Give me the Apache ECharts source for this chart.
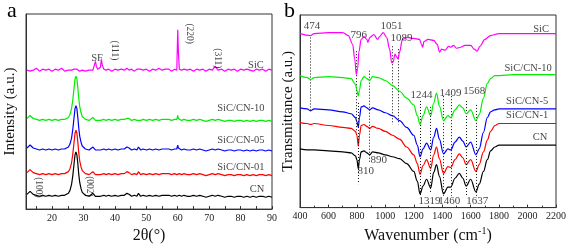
<!DOCTYPE html>
<html><head><meta charset="utf-8">
<script src="https://cdn.jsdelivr.net/npm/echarts@6/dist/echarts.min.js"></script>
<style>html,body{margin:0;padding:0;background:#fff}#c{width:569px;height:249px}</style>
</head><body><div id="c"></div>
<script>
// ---------- Panel a: XRD ----------
const xrdX = [12,12.5,13,13.5,14,15,16,17,18,19,
  20,21,22,23,24,24.6,25.2,25.7,26.2,26.6,
  27.0,27.3,27.6,27.9,28.2,28.5,28.8,29.2,29.6,30.1,
  30.6,31.2,31.8,32.4,33.0,33.5,33.8,34.1,34.5,35.0,
  35.4,35.7,36.0,36.5,37.2,38,39,40,41,42,
  43,43.8,44.5,45.3,46.2,47.0,47.5,48.2,49,50,
  51,52,53,54,55,56,56.5,57.2,58,59,
  59.7,60.0,60.2,60.5,61.2,62,63,64,65,66,
  67,68,69,70,71,71.9,72.8,74,75,76,
  77,78,79,80,81,82,83,84,85,86,87,88,89,90];
const xrdCN = [15,17,18,17,15,14,13,14,13,14,
  13,14,13,14,14,15,16,19,25,34,
  46,55,58,55,46,35,27,21,17,15,
  14,14,13,14,16,14,13,14,13,14,
  13,14,13,14,13,14,13,14,13,14,
  14,16,15,13,14,13,16,13,14,13,
  14,13,14,13,14,14,16,14,13,14,
  13,14,13,14,13,14,13,13,14,13,
  14,13,12,13,14,13,14,13,12,13,
  13,12,13,13,12,13,12,13,12,13,13,12,13,12];
const xrdCN01 = [37,39,40,39,37,36,35,36,35,36,
  35,36,35,36,36,37,38,41,47,56,
  68,77,80,77,68,57,49,43,39,37,
  36,36,35,36,38,36,35,36,35,36,
  35,36,35,36,35,36,35,36,35,36,
  36,38,37,35,36,35,38,35,36,35,
  36,35,36,35,36,36,38,36,35,36,
  35,36,35,36,35,36,35,35,36,35,
  36,35,34,35,36,35,36,35,34,35,
  35,34,35,35,34,35,34,35,34,35,35,34,35,34];
const xrdCN05 = [62,64,65,64,62,61,60,61,60,61,
  60,61,60,61,61,62,63,66,72,81,
  93,102,105,102,93,82,74,68,64,62,
  61,61,60,61,63,61,60,61,60,61,
  60,61,60,61,60,61,60,61,60,61,
  61,63,62,60,61,60,63,60,61,60,
  61,60,61,60,61,61,63,61,60,61,
  61,65,62,61,60,61,60,60,61,60,
  61,60,59,60,61,60,61,60,59,60,
  60,59,60,60,59,60,59,60,59,60,60,59,60,59];
const xrdCN10 = [92,94,95,94,92,91,90,91,90,91,
  90,91,90,91,91,92,93,96,102,111,
  123,132,135,132,123,112,104,98,94,92,
  91,91,90,91,93,91,90,91,90,91,
  90,91,90,91,90,91,90,91,90,91,
  91,92,92,90,91,90,92,90,91,90,
  91,90,91,90,91,91,93,91,90,91,
  91,95,92,91,90,91,90,90,91,90,
  91,90,89,90,91,90,91,90,89,90,
  90,89,90,90,89,90,89,90,89,90,90,89,90,89];
const xrdSiC = [141,143,140,142,141,143,140,142,141,142,
  140,142,141,143,140,142,141,139,141,140,
  142,141,140,142,141,143,140,142,141,142,
  140,142,141,142,141,143,150,145,142,141,
  144,152,146,142,141,142,140,142,141,142,
  141,143,141,142,140,142,141,142,141,142,
  140,142,141,143,141,142,141,142,140,142,
  141,182,160,142,141,142,141,142,140,142,
  141,142,140,142,141,145,141,142,140,142,
  141,142,140,142,141,142,141,140,142,141,142,140,142,141];
const xrdNames = ['CN','SiC/CN-01','SiC/CN-05','SiC/CN-10','SiC'];
const xrdLabelPos = [[85.2,20],[80.1,42],[80.1,70],[80.1,102],[84.9,146]];
const xrdPeakText = ['SF'];
const xrdPeakPos = [[34.3,153]];
const xrdRotText = ['(111)','(220)','(311)','(100)','(002)'];
const xrdRotPos = [[40.0,161],[63.6,178],[72.8,153],[15.7,22],[31.8,23]];
const xrdTickLabels = [20,30,40,50,60,70,80,90];
const xrdTicks = [15,20,25,30,35,40,45,50,55,60,65,70,75,80,85,90];

// ---------- Panel b: FTIR ----------
const ftirX = [400,450,474,500,600,700,760,790,800,810,
  818,830,850,870,890,910,950,1000,1050,1100,
  1150,1200,1225,1244,1265,1290,1319,1340,1360,1380,
  1409,1440,1460,1490,1520,1545,1568,1600,1637,1660,
  1690,1717,1740,1770,1800,1900,2200];
const ftirCN10 = [135,133,131,133,134,133,132,126,120,114,
  120,130,134,132,130,134,133,130,125,119,
  112,105,94,85,94,103,94,107,117,104,
  89,94,92,100,105,102,96,100,89,95,
  112,127,132,135,135,136,136];
const ftirCN5 = [102,101,99,101,100,98,96,92,88,82,
  92,103,104,102,100,102,100,97,94,89,
  82,74,64,52,60,66,59,72,81,70,
  55,60,59,67,72,68,62,67,54,60,
  77,92,98,100,101,101,101];
const ftirCN1 = [87,86,85,86,84,82,81,78,74,63,
  74,84,85,83,81,83,81,78,74,70,
  62,54,45,34,43,49,40,54,62,50,
  35,42,41,49,55,51,44,49,37,44,
  57,69,78,84,86,86,86];
const ftirCN = [60,59,59,59,58,57,56,53,49,40,
  49,57,58,56,54,57,56,54,52,50,
  45,37,27,14,22,29,20,36,44,32,
  14,21,21,30,35,30,22,29,16,24,
  37,49,58,62,64,64,64];
const sicWave = [400,474,500,600,700,740,770,785,796,805,815,830,850,870,878,890,920,945,960,985,
  1010,1030,1045,1055,1068,1080,1089,1100,1120,1150,1200,1240,1255,1262,1272,1300,1340,1365,1381,1395,
  1420,1445,1460,1480,1500,1530,1560,1600,1625,1645,1665,1700,1740,1800,2000,2200];
const sicVal = [178,176,178,179,179,176,167,152,136,142,160,172,175,172,169,174,177,172,175,179,
  174,162,148,149,157,154,152,159,172,174,173,172,167,164,170,172,171,167,159,162,
  161,165,164,166,163,164,166,166,162,160,165,172,176,178,178,178];
const ftirNames = ['CN','SiC/CN-1','SiC/CN-5','SiC/CN-10','SiC'];
const ftirLabelPos = [[2088,72],[1997,94],[1997,109],[2004,143],[2095,182]];
const refWave = [474,796,810,890,1051,1089,1244,1319,1409,1460,1568,1637];
const refTop = [174,160,107,140,165,162,109,103,114,114,109,105];
const refBottom = [99,77,24,45,85,85,12,16,12,12,12,12];
const peakText = ['474','796','1051','1089','1244','1409','1568','1319','1460','1637','810','890'];
const peakPos = [[484,186],[813,176],[1044,186],[1114,173],[1254,115],[1458,117],[1626,119],
  [1310,7],[1450,7],[1647,7],[862,37],[953,49]];

const colors = ['#000000','#ff0000','#0000ff','#00ee00','#ff00ff'];
const FONT = '"Liberation Serif","Times New Roman",serif';

const xrdSets = [xrdCN, xrdCN01, xrdCN05, xrdCN10, xrdSiC];
const ftirSets = [ftirCN, ftirCN1, ftirCN5, ftirCN10];

const series = [];
xrdSets.forEach((vals, k) => {
  series.push({type:'line', xAxisIndex:0, yAxisIndex:0, name:xrdNames[k], symbol:'none',
    data: xrdX.map((x,i)=>[x, vals[i]]), lineStyle:{color:colors[k], width:1.2}, silent:true, z: 2+k});
});
ftirSets.forEach((vals, k) => {
  series.push({type:'line', xAxisIndex:1, yAxisIndex:1, name:ftirNames[k], symbol:'none', smooth:0.35, smoothMonotone:'x',
    data: ftirX.map((x,i)=>[x, vals[i]]), lineStyle:{color:colors[k], width:1.2}, silent:true, z: 2+k});
});
series.push({type:'line', xAxisIndex:1, yAxisIndex:1, name:'SiC', symbol:'none', smooth:0.35, smoothMonotone:'x',
  data: sicWave.map((x,i)=>[x, sicVal[i]]), lineStyle:{color:colors[4], width:1.2}, silent:true, z:6,
  markLine:{silent:true, symbol:['none','none'], label:{show:false},
    lineStyle:{type:[1,2], color:'#111', width:1},
    data: refWave.map((w,i)=>[{coord:[w, refTop[i]]},{coord:[w, refBottom[i]]}])}});

function textSeries(xi, yi, pos, texts, size, rotate){
  return {type:'scatter', xAxisIndex:xi, yAxisIndex:yi, symbolSize:0, silent:true, z:10,
    data: pos.map((p,i)=>[p[0], p[1], texts[i]]),
    label:{show:true, position:'inside', formatter:(p)=>p.data[2], color:'#111',
      fontFamily:FONT, fontSize:size, rotate: rotate||0}};
}
series.push(textSeries(0,0,xrdLabelPos,xrdNames,10.5));
series.push(textSeries(0,0,xrdPeakPos,xrdPeakText,10.5));
series.push(textSeries(0,0,xrdRotPos,xrdRotText,9.5,-90));
series.push(textSeries(1,1,ftirLabelPos,ftirNames,10.5));
series.push(textSeries(1,1,peakPos,peakText,11));

const chart = echarts.init(document.getElementById('c'), null, {renderer:'canvas'});
chart.setOption({
  animation:false,
  backgroundColor:'#fff',
  textStyle:{fontFamily:FONT},
  grid:[
    {left:26, top:14, width:246, height:198, show:true, borderColor:'#333', borderWidth:1},
    {left:300, top:15, width:257, height:197, show:true, borderColor:'#333', borderWidth:1}
  ],
  xAxis:[
    {gridIndex:0, type:'value', min:11.7, max:90,
      axisLine:{lineStyle:{color:'#333'}},
      axisTick:{inside:true, length:3, customValues:xrdTicks, lineStyle:{color:'#333'}},
      axisLabel:{customValues:xrdTickLabels, fontSize:10, color:'#222', fontFamily:FONT, margin:4},
      splitLine:{show:false},
      name:'2θ(°)', nameLocation:'middle', nameGap:17,
      nameTextStyle:{fontSize:16, color:'#111', fontFamily:FONT}},
    {gridIndex:1, type:'value', min:400, max:2200, interval:200,
      axisLine:{lineStyle:{color:'#333'}},
      axisTick:{inside:true, length:3, lineStyle:{color:'#333'}},
      minorTick:{show:true, splitNumber:2, length:2, lineStyle:{color:'#333'}},
      axisLabel:{fontSize:10, color:'#222', fontFamily:FONT, margin:4, formatter:(v)=>String(v)},
      splitLine:{show:false},
      name:'Wavenumber (cm{sup|-1})', nameLocation:'middle', nameGap:17,
      nameTextStyle:{fontSize:16, color:'#111', fontFamily:FONT,
        rich:{sup:{fontSize:10, fontFamily:FONT, color:'#111', verticalAlign:'top', padding:[0,0,9,0]}}}}
  ],
  yAxis:[
    {gridIndex:0, type:'value', min:0, max:198,
      axisLine:{show:true, lineStyle:{color:'#333'}}, axisTick:{show:false}, axisLabel:{show:false}, splitLine:{show:false},
      name:'Intensity (a.u.)', nameLocation:'middle', nameGap:8, nameRotate:90,
      nameTextStyle:{fontSize:15, color:'#111', fontFamily:FONT}},
    {gridIndex:1, type:'value', min:0, max:197,
      axisLine:{show:true, lineStyle:{color:'#333'}}, axisTick:{show:false}, axisLabel:{show:false}, splitLine:{show:false},
      name:'Transmittance (a.u.)', nameLocation:'middle', nameGap:4, nameRotate:90,
      nameTextStyle:{fontSize:15, color:'#111', fontFamily:FONT}}
  ],
  graphic:[
    {type:'text', left:7, top:0, style:{text:'a', font:'22px "Liberation Serif", serif', fill:'#000'}},
    {type:'text', left:284, top:0, style:{text:'b', font:'22px "Liberation Serif", serif', fill:'#000'}}
  ],
  series: series
});
</script></body></html>
